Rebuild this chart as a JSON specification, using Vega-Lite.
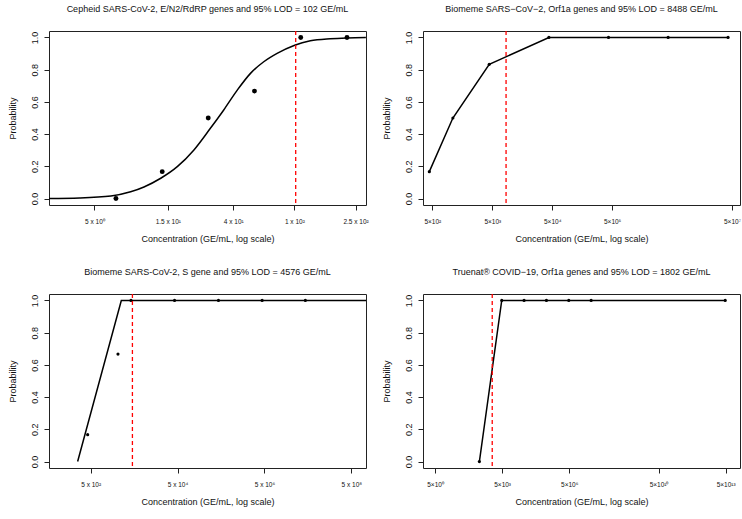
{
  "$schema": "https://vega.github.io/schema/vega-lite/v6.json",
  "padding": {"left": 7, "top": 4, "right": 5, "bottom": 5},
  "config": {
    "font": "Liberation Sans",
    "view": {"stroke": "#222", "strokeWidth": 1},
    "axis": {"grid": false, "domain": false, "tickColor": "#222", "tickSize": 5, "labelColor": "#111", "titleColor": "#111", "titleFontWeight": "normal", "labelFont": "Liberation Sans", "titleFont": "Liberation Sans", "labelOverlap": false, "labelFlush": false, "labelBound": false},
    "axisX": {"labelFontSize": 6.5, "labelPadding": 8, "titleFontSize": 9, "titlePadding": 10},
    "axisY": {"labelFontSize": 9, "labelAngle": 270, "labelAlign": "center", "labelBaseline": "bottom", "labelPadding": 5, "titleFontSize": 9, "titlePadding": 13, "labelOverlap": false, "labelSeparation": 0},
    "title": {"fontSize": 9, "fontWeight": "normal", "font": "Liberation Sans", "color": "#111", "frame": "group", "anchor": "middle", "offset": 16, "baseline": "bottom"}
  },
  "datasets": {
    "cepheid_pts": [
      {"conc": 6.9, "prob": 0},
      {"conc": 13.8, "prob": 0.167},
      {"conc": 27.5, "prob": 0.5},
      {"conc": 55, "prob": 0.667},
      {"conc": 110, "prob": 1},
      {"conc": 220, "prob": 1}
    ],
    "cepheid_curve": [
      {"conc": 2.53, "prob": 0.001},
      {"conc": 4.0, "prob": 0.004},
      {"conc": 6.4, "prob": 0.016},
      {"conc": 8.6, "prob": 0.042},
      {"conc": 10.5, "prob": 0.072},
      {"conc": 13.5, "prob": 0.126},
      {"conc": 17.3, "prob": 0.198},
      {"conc": 22.2, "prob": 0.302},
      {"conc": 28.4, "prob": 0.436},
      {"conc": 34.7, "prob": 0.55},
      {"conc": 42.5, "prob": 0.673},
      {"conc": 51.8, "prob": 0.777},
      {"conc": 63.2, "prob": 0.849},
      {"conc": 77.2, "prob": 0.901},
      {"conc": 100.5, "prob": 0.952},
      {"conc": 127, "prob": 0.979},
      {"conc": 171, "prob": 0.992},
      {"conc": 220, "prob": 0.997},
      {"conc": 292, "prob": 0.999}
    ],
    "orf1a_biomeme": [
      {"conc": 445, "prob": 0.167},
      {"conc": 1100, "prob": 0.5},
      {"conc": 4450, "prob": 0.833},
      {"conc": 44000, "prob": 1},
      {"conc": 435000, "prob": 1},
      {"conc": 4300000, "prob": 1},
      {"conc": 43000000, "prob": 1}
    ],
    "s_pts": [
      {"conc": 427, "prob": 0.167},
      {"conc": 2130, "prob": 0.667},
      {"conc": 4250, "prob": 1},
      {"conc": 42700, "prob": 1},
      {"conc": 438000, "prob": 1},
      {"conc": 4430000, "prob": 1},
      {"conc": 43800000, "prob": 1}
    ],
    "s_line": [
      {"conc": 251, "prob": 0},
      {"conc": 2540, "prob": 1},
      {"conc": 1090000000, "prob": 1}
    ],
    "truenat": [
      {"conc": 480, "prob": 0},
      {"conc": 4800, "prob": 1},
      {"conc": 48000, "prob": 1},
      {"conc": 480000, "prob": 1},
      {"conc": 4800000, "prob": 1},
      {"conc": 48000000, "prob": 1},
      {"conc": 48000000000000, "prob": 1}
    ]
  },
  "columns": 2,
  "spacing": {"row": 23, "column": 12},
  "concat": [
    {
      "title": {"text": "Cepheid SARS-CoV-2, E/N2/RdRP genes and 95% LOD = 102 GE/mL"},
      "width": 317, "height": 174,
      "encoding": {
        "x": {"field": "conc", "type": "quantitative", "title": "Concentration (GE/mL, log scale)",
          "scale": {"type": "log", "domain": [2.53, 292.5], "nice": false, "zero": false},
          "axis": {"values": [5, 15, 40, 100, 250], "labelOverlap": false, "labelExpr": "datum.value == 5 ? '5 x 10\u2070' : datum.value == 15 ? '1.5 x 10\u00b9' : datum.value == 40 ? '4 x 10\u00b9' : datum.value == 100 ? '1 x 10\u00b2' : '2.5 x 10\u00b2'"}}
      },
      "layer": [
        {"data": {"name": "cepheid_curve"},
         "mark": {"type": "line", "color": "black", "strokeWidth": 1.5, "interpolate": "monotone", "clip": true},
         "encoding": {"y": {"field": "prob", "type": "quantitative", "title": "Probability", "scale": {"domain": [-0.04, 1.04], "nice": false, "zero": false}, "axis": {"values": [0, 0.2, 0.4, 0.6, 0.8, 1], "format": ".1f", "labelOverlap": false}}}},
        {"data": {"name": "cepheid_pts"},
         "mark": {"type": "circle", "color": "black", "size": 24, "opacity": 1, "clip": true},
         "encoding": {"y": {"field": "prob", "type": "quantitative", "title": "Probability", "axis": {"values": [0, 0.2, 0.4, 0.6, 0.8, 1], "format": ".1f", "labelOverlap": false}}}},
        {"data": {"values": [{"conc": 102}]},
         "mark": {"type": "rule", "color": "#f00", "strokeDash": [4, 3], "strokeWidth": 1.3},
         "encoding": {}}
      ]
    },
    {
      "title": {"text": "Biomeme SARS\u2212CoV\u22122, Orf1a genes and 95% LOD = 8488 GE/mL"},
      "width": 317, "height": 174,
      "encoding": {
        "x": {"field": "conc", "type": "quantitative", "title": "Concentration (GE/mL, log scale)",
          "scale": {"type": "log", "domain": [349, 68000000], "nice": false, "zero": false},
          "axis": {"values": [500, 5000, 50000, 500000, 50000000], "labelOverlap": false, "labelExpr": "datum.value == 500 ? '5\u00d710\u00b2' : datum.value == 5000 ? '5\u00d710\u00b3' : datum.value == 50000 ? '5\u00d710\u2074' : datum.value == 500000 ? '5\u00d710\u2075' : '5\u00d710\u2077'"}}
      },
      "layer": [
        {"data": {"name": "orf1a_biomeme"},
         "mark": {"type": "line", "color": "black", "strokeWidth": 1.5, "clip": true},
         "encoding": {"y": {"field": "prob", "type": "quantitative", "title": "Probability", "scale": {"domain": [-0.04, 1.04], "nice": false, "zero": false}, "axis": {"values": [0, 0.2, 0.4, 0.6, 0.8, 1], "format": ".1f", "labelOverlap": false}}}},
        {"data": {"name": "orf1a_biomeme"},
         "mark": {"type": "circle", "color": "black", "size": 10, "opacity": 1, "clip": true},
         "encoding": {"y": {"field": "prob", "type": "quantitative", "title": "Probability", "axis": {"values": [0, 0.2, 0.4, 0.6, 0.8, 1], "format": ".1f", "labelOverlap": false}}}},
        {"data": {"values": [{"conc": 8488}]},
         "mark": {"type": "rule", "color": "#f00", "strokeDash": [4, 3], "strokeWidth": 1.3},
         "encoding": {}}
      ]
    },
    {
      "title": {"text": "Biomeme SARS-CoV-2, S gene and 95% LOD = 4576 GE/mL"},
      "width": 317, "height": 174,
      "encoding": {
        "x": {"field": "conc", "type": "quantitative", "title": "Concentration (GE/mL, log scale)",
          "scale": {"type": "log", "domain": [55, 1090000000], "nice": false, "zero": false},
          "axis": {"values": [500, 50000, 5000000, 500000000], "labelOverlap": false, "labelExpr": "datum.value == 500 ? '5 x 10\u00b2' : datum.value == 50000 ? '5 x 10\u2074' : datum.value == 5000000 ? '5 x 10\u2076' : '5 x 10\u2078'"}}
      },
      "layer": [
        {"data": {"name": "s_line"},
         "mark": {"type": "line", "color": "black", "strokeWidth": 1.5, "clip": true},
         "encoding": {"y": {"field": "prob", "type": "quantitative", "title": "Probability", "scale": {"domain": [-0.04, 1.04], "nice": false, "zero": false}, "axis": {"values": [0, 0.2, 0.4, 0.6, 0.8, 1], "format": ".1f", "labelOverlap": false}}}},
        {"data": {"name": "s_pts"},
         "mark": {"type": "circle", "color": "black", "size": 10, "opacity": 1, "clip": true},
         "encoding": {"y": {"field": "prob", "type": "quantitative", "title": "Probability", "axis": {"values": [0, 0.2, 0.4, 0.6, 0.8, 1], "format": ".1f", "labelOverlap": false}}}},
        {"data": {"values": [{"conc": 4576}]},
         "mark": {"type": "rule", "color": "#f00", "strokeDash": [4, 3], "strokeWidth": 1.3},
         "encoding": {}}
      ]
    },
    {
      "title": {"text": "Truenat\u00ae COVID\u221219, Orf1a genes and 95% LOD = 1802 GE/mL"},
      "width": 317, "height": 174,
      "encoding": {
        "x": {"field": "conc", "type": "quantitative", "title": "Concentration (GE/mL, log scale)",
          "scale": {"type": "log", "domain": [1.44, 220000000000000], "nice": false, "zero": false},
          "axis": {"values": [5, 5000, 5000000, 50000000000, 50000000000000], "labelOverlap": false, "labelExpr": "datum.value == 5 ? '5\u00d710\u2070' : datum.value == 5000 ? '5\u00d710\u00b3' : datum.value == 5000000 ? '5\u00d710\u2076' : datum.value == 50000000000 ? '5\u00d710\u00b9\u2070' : '5\u00d710\u00b9\u00b3'"}}
      },
      "layer": [
        {"data": {"name": "truenat"},
         "mark": {"type": "line", "color": "black", "strokeWidth": 1.5, "clip": true},
         "encoding": {"y": {"field": "prob", "type": "quantitative", "title": "Probability", "scale": {"domain": [-0.04, 1.04], "nice": false, "zero": false}, "axis": {"values": [0, 0.2, 0.4, 0.6, 0.8, 1], "format": ".1f", "labelOverlap": false}}}},
        {"data": {"name": "truenat"},
         "mark": {"type": "circle", "color": "black", "size": 10, "opacity": 1, "clip": true},
         "encoding": {"y": {"field": "prob", "type": "quantitative", "title": "Probability", "axis": {"values": [0, 0.2, 0.4, 0.6, 0.8, 1], "format": ".1f", "labelOverlap": false}}}},
        {"data": {"values": [{"conc": 1802}]},
         "mark": {"type": "rule", "color": "#f00", "strokeDash": [4, 3], "strokeWidth": 1.3},
         "encoding": {}}
      ]
    }
  ]
}
